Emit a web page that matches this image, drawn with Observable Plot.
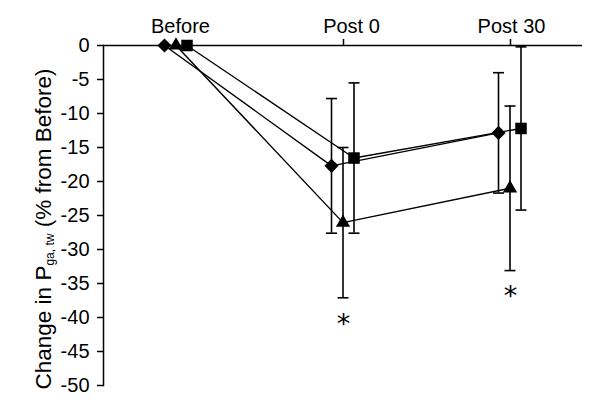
<!DOCTYPE html>
<html><head><meta charset="utf-8">
<script src="https://cdn.jsdelivr.net/npm/d3@7"></script>
<script src="https://cdn.jsdelivr.net/npm/@observablehq/plot@0.6"></script>
<style>
html,body{margin:0;padding:0;background:#fff;}
svg{display:block;}
</style></head><body><div id="chart"></div>
<script>
// ---- data ----
const categories = ["Before", "Post 0", "Post 30"];
const diamondMean = [0, -17.7, -12.85];
const diamondErr = [0, 9.9, 8.85];
const triangleMean = [0, -26.05, -21.0];
const triangleErr = [0, 11.05, 12.1];
const squareMean = [0, -16.55, -12.2];
const squareErr = [0, 11.05, 12.0];
const starCategories = ["Post 0", "Post 30"];
const starValues = [-41.0, -36.9];
const yTicks = [0, -5, -10, -15, -20, -25, -30, -35, -40, -45, -50];
const tickedCategories = ["Post 0", "Post 30"];

// ---- build tables ----
function rows(mean, err) {
  return categories.map((c, i) => ({cat: c, mean: mean[i], lo: mean[i] - err[i], hi: mean[i] + err[i], err: err[i]}));
}
const series = [
  {data: rows(diamondMean, diamondErr), symbol: "diamond2", r: 6.4, dx: -12},
  {data: rows(triangleMean, triangleErr), symbol: "triangle", r: 5.3, dx: -0.5},
  {data: rows(squareMean, squareErr), symbol: "square", r: 6.5, dx: 10.5}
];
const stars = starCategories.map((c, i) => ({cat: c, y: starValues[i]}));
const labelNudge = {"Before": 4, "Post 0": 8, "Post 30": 1};

const capSymbol = {draw(ctx) { ctx.moveTo(-5.5, 0); ctx.lineTo(5.5, 0); }};

const marks = [
  Plot.frame({anchor: "left", strokeWidth: 1.5}),
  Plot.ruleY([0], {strokeWidth: 1.5}),
  Plot.axisY(yTicks, {anchor: "left", tickSize: 6, tickPadding: 8, tickFormat: d => String(d), fontSize: 20, strokeWidth: 1.5, label: null}),
  Plot.axisX(tickedCategories, {anchor: "top", tickSize: 7, tickFormat: () => "", strokeWidth: 1.5, label: null})
];
for (const c of categories) {
  marks.push(Plot.axisX([c], {anchor: "top", tickSize: 0, tickPadding: 13, fontSize: 20, dx: labelNudge[c], label: null}));
}
for (const s of series) {
  marks.push(Plot.line(s.data, {x: "cat", y: "mean", dx: s.dx, stroke: "black", strokeWidth: 1.4}));
}
for (const s of series) {
  const withErr = s.data.filter(d => d.err > 0);
  marks.push(Plot.ruleX(withErr, {x: "cat", y1: "lo", y2: "hi", dx: s.dx, stroke: "black", strokeWidth: 1.6}));
  marks.push(Plot.dot(withErr, {x: "cat", y: "lo", dx: s.dx, symbol: capSymbol, r: 5, fill: "none", stroke: "black", strokeWidth: 1.6}));
  marks.push(Plot.dot(withErr, {x: "cat", y: "hi", dx: s.dx, symbol: capSymbol, r: 5, fill: "none", stroke: "black", strokeWidth: 1.6}));
}
for (const s of series) {
  marks.push(Plot.dot(s.data, {x: "cat", y: "mean", dx: s.dx, symbol: s.symbol, r: s.r, fill: "black", stroke: "none"}));
}
marks.push(Plot.text(stars, {x: "cat", y: "y", text: () => "*", fontSize: 27, fontFamily: "'DejaVu Sans', sans-serif", fill: "black"}));

const plot = Plot.plot({
  width: 600, height: 407,
  marginLeft: 103, marginTop: 45, marginBottom: 22, marginRight: 18,
  style: {fontFamily: "'Liberation Sans', Arial, sans-serif", fontSize: "20px", color: "black", background: "white"},
  x: {type: "point", domain: categories, padding: 0.434, axis: null},
  y: {domain: [-50, 0], axis: null},
  marks
});
document.getElementById("chart").appendChild(plot);

// y-axis title with subscript
const ys = plot.scale("y");
const cy = (ys.apply(0) + ys.apply(-50)) / 2 + 14;
const t = d3.select(plot).append("text")
  .attr("transform", `translate(51,${cy}) rotate(-90)`)
  .attr("text-anchor", "middle")
  .attr("fill", "black")
  .style("font-family", "'Liberation Sans', Arial, sans-serif")
  .style("font-size", "22.5px");
t.append("tspan").text("Change in P");
t.append("tspan").attr("dy", 3).style("font-size", "12px").text("ga, tw");
t.append("tspan").attr("dy", -3).text(" (% from Before)");
</script></body></html>
